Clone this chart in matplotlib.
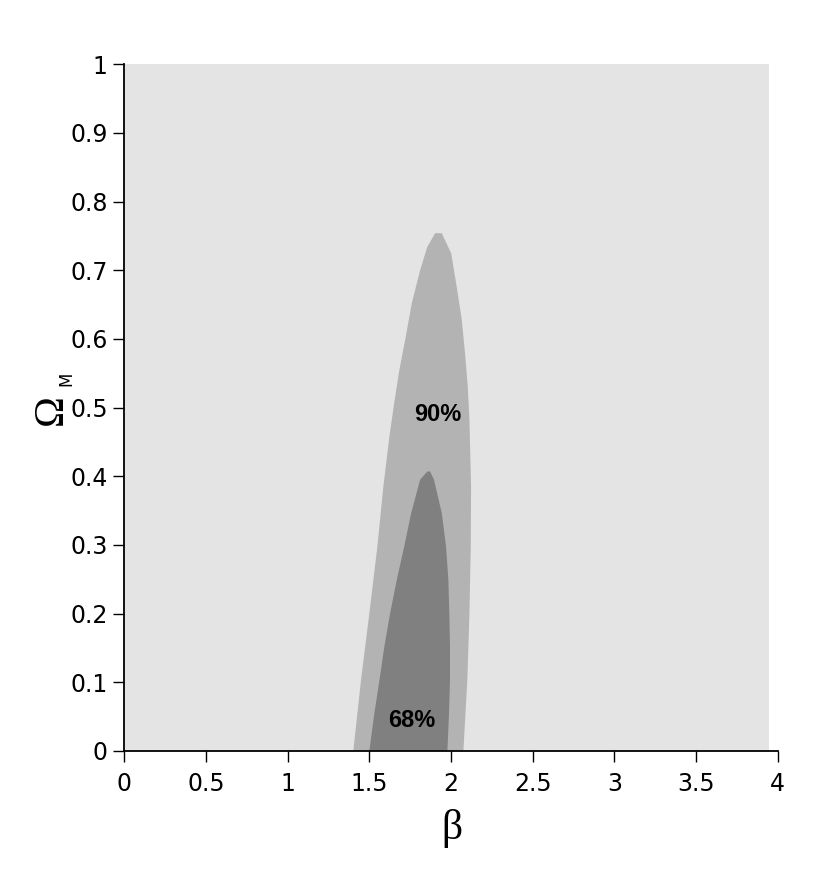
import matplotlib
matplotlib.use("Agg")
import matplotlib.pyplot as plt
import numpy as np

# ---- data ----
beta_range = [0.0, 3.95]
omega_range = [0.0, 1.0]

# 90% confidence region: left edge (bottom->top) then right edge (top->bottom)
c90_beta = [1.402, 1.449, 1.500, 1.549, 1.586, 1.623, 1.652, 1.684, 1.723, 1.760,
            1.811, 1.855, 1.903, 1.944, 1.953, 2.001, 2.035, 2.066, 2.086, 2.103,
            2.113, 2.123, 2.121, 2.113, 2.100, 2.076]
c90_omega = [0.000, 0.103, 0.200, 0.297, 0.385, 0.458, 0.506, 0.555, 0.603, 0.652,
             0.700, 0.734, 0.754, 0.754, 0.749, 0.725, 0.676, 0.628, 0.579, 0.530,
             0.482, 0.385, 0.297, 0.200, 0.103, 0.000]

# 68% confidence region
c68_beta = [1.500, 1.531, 1.562, 1.592, 1.627, 1.668, 1.713, 1.756, 1.811, 1.855,
            1.872, 1.896, 1.944, 1.970, 1.984, 1.990, 1.994, 1.994, 1.988, 1.978]
c68_omega = [0.000, 0.055, 0.103, 0.152, 0.200, 0.249, 0.297, 0.346, 0.395, 0.407,
             0.407, 0.395, 0.346, 0.297, 0.249, 0.200, 0.152, 0.103, 0.055, 0.000]

labels = ["90%", "68%"]
label_pos = [(1.92, 0.49), (1.76, 0.045)]

x_ticks = [0, 0.5, 1, 1.5, 2, 2.5, 3, 3.5, 4]
x_ticklabels = ["0", "0.5", "1", "1.5", "2", "2.5", "3", "3.5", "4"]
y_ticks = [0, 0.1, 0.2, 0.3, 0.4, 0.5, 0.6, 0.7, 0.8, 0.9, 1]
y_ticklabels = ["0", "0.1", "0.2", "0.3", "0.4", "0.5", "0.6", "0.7", "0.8", "0.9", "1"]

# ---- figure ----
fig = plt.figure(figsize=(8.30, 8.84), dpi=100)
ax = fig.add_axes([0.1498, 0.1505, 0.7871, 0.7768])

ax.fill_between(beta_range, omega_range[0], omega_range[1], color="#e4e4e4", lw=0, zorder=1)
ax.fill(c90_beta, c90_omega, color="#b3b3b3", lw=0, zorder=2)
ax.fill(c68_beta, c68_omega, color="#808080", lw=0, zorder=3)

for t, (bx, oy) in zip(labels, label_pos):
    ax.text(bx, oy, t, ha="center", va="center", fontsize=17, fontweight="bold",
            family="Liberation Sans", color="black", zorder=5)

ax.set_xlim(0, 4)
ax.set_ylim(0, 1)
ax.set_xticks(x_ticks)
ax.set_xticklabels(x_ticklabels)
ax.set_yticks(y_ticks)
ax.set_yticklabels(y_ticklabels)

for s in ["top", "right"]:
    ax.spines[s].set_visible(False)
for s in ["left", "bottom"]:
    ax.spines[s].set_linewidth(1.3)
    ax.spines[s].set_zorder(6)

ax.tick_params(direction="out", length=8, width=1.0, labelsize=17, colors="black")
ax.tick_params(axis="x", pad=7)
ax.tick_params(axis="y", pad=4)
for lab in ax.get_xticklabels() + ax.get_yticklabels():
    lab.set_family("DejaVu Sans")

# axis labels
fig.text(52 / 830, 1 - 410 / 884, "\u03a9", rotation=90, ha="center", va="center",
         fontsize=30, family="Liberation Serif")
fig.text(66 / 830, 1 - 379 / 884, "M", rotation=90, ha="center", va="center",
         fontsize=12, family="DejaVu Sans")
fig.text(452 / 830, 1 - 828 / 884, "\u03b2", ha="center", va="center",
         fontsize=30, family="Liberation Serif")

fig.savefig("out.png", dpi=100, facecolor="white")
